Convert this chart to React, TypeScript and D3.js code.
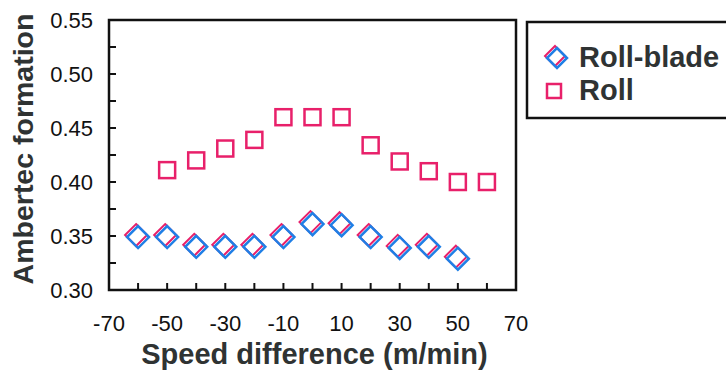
import * as d3 from "d3";
import React, { useRef, useEffect } from "react";

const W = 726;
const H = 377;
const margin = { top: 20, right: 210, bottom: 87, left: 109 };
const width = W - margin.left - margin.right;
const height = H - margin.top - margin.bottom;

const bladeX = [-60, -50, -40, -30, -20, -10, 0, 10, 20, 30, 40, 50];
const bladeY = [0.349, 0.349, 0.34, 0.34, 0.34, 0.349, 0.361, 0.36, 0.349, 0.339, 0.34, 0.329];
const rollX = [-50, -40, -30, -20, -10, 0, 10, 20, 30, 40, 50, 60];
const rollY = [0.411, 0.42, 0.431, 0.439, 0.46, 0.46, 0.46, 0.434, 0.419, 0.41, 0.4, 0.4];
const xLabels = [-70, -50, -30, -10, 10, 30, 50, 70];
const yLabels = [0.3, 0.35, 0.4, 0.45, 0.5, 0.55];
const seriesNames = ["Roll-blade", "Roll"];

const pink = "#e8206a";
const blue = "#1f7fe6";
const ink = "#2f3333";
const font = "Liberation Sans, Arial, sans-serif";

function App() {
  const ref = useRef<SVGSVGElement>(null);

  useEffect(() => {
    const svg = d3.select(ref.current);
    svg.selectAll("*").remove();

    const x = d3.scaleLinear().domain([-70, 70]).range([0, width]);
    const y = d3.scaleLinear().domain([0.3, 0.55]).range([height, 0]);

    const g = svg
      .append("g")
      .attr("transform", `translate(${margin.left},${margin.top})`);

    // frame
    g.append("rect")
      .attr("width", width)
      .attr("height", height)
      .attr("fill", "none")
      .attr("stroke", "#111")
      .attr("stroke-width", 2.5);

    // x ticks (inward)
    g.append("g")
      .selectAll("line")
      .data(d3.range(-60, 70, 10))
      .join("line")
      .attr("x1", (d) => x(d))
      .attr("x2", (d) => x(d))
      .attr("y1", height)
      .attr("y2", height - 7)
      .attr("stroke", "#111")
      .attr("stroke-width", 2);

    g.append("g")
      .selectAll("text")
      .data(xLabels)
      .join("text")
      .attr("x", (d) => x(d))
      .attr("y", height + 41)
      .attr("text-anchor", "middle")
      .attr("font-family", font)
      .attr("font-size", 22)
      .attr("fill", "#111")
      .text((d) => d);

    // y ticks (inward)
    g.append("g")
      .selectAll("line")
      .data(d3.range(0.325, 0.55, 0.025))
      .join("line")
      .attr("x1", 0)
      .attr("x2", 7)
      .attr("y1", (d) => y(d))
      .attr("y2", (d) => y(d))
      .attr("stroke", "#111")
      .attr("stroke-width", 2);

    g.append("g")
      .selectAll("text")
      .data(yLabels)
      .join("text")
      .attr("x", -16)
      .attr("y", (d) => y(d) + 8)
      .attr("text-anchor", "end")
      .attr("font-family", font)
      .attr("font-size", 22)
      .attr("fill", "#111")
      .text((d) => d.toFixed(2));

    // axis titles
    svg
      .append("text")
      .attr("x", margin.left + width / 2 + 2)
      .attr("y", 364)
      .attr("text-anchor", "middle")
      .attr("font-family", font)
      .attr("font-weight", "bold")
      .attr("font-size", 29)
      .attr("fill", ink)
      .text("Speed difference (m/min)");

    svg
      .append("text")
      .attr("transform", `translate(33,149) rotate(-90)`)
      .attr("text-anchor", "middle")
      .attr("font-family", font)
      .attr("font-weight", "bold")
      .attr("font-size", 28.5)
      .attr("fill", ink)
      .text("Ambertec formation");

    const diamond = (sel: any, s: number) =>
      sel.attr("points", `0,${-s} ${s},0 0,${s} ${-s},0`);

    // roll-blade: pink shadow + blue diamond
    const blade = g
      .append("g")
      .selectAll("g")
      .data(bladeX.map((v, i) => [v, bladeY[i]]))
      .join("g")
      .attr("transform", (d) => `translate(${x(d[0])},${y(d[1])})`);
    blade
      .append("polygon")
      .call(diamond, 11)
      .attr("transform", "translate(-2,-2)")
      .attr("fill", "none")
      .attr("stroke", pink)
      .attr("stroke-width", 2);
    blade
      .append("polygon")
      .call(diamond, 11)
      .attr("fill", "none")
      .attr("stroke", blue)
      .attr("stroke-width", 2.5);

    // roll squares
    g.append("g")
      .selectAll("rect")
      .data(rollX.map((v, i) => [v, rollY[i]]))
      .join("rect")
      .attr("x", (d) => x(d[0]) - 8)
      .attr("y", (d) => y(d[1]) - 8)
      .attr("width", 16)
      .attr("height", 16)
      .attr("fill", "none")
      .attr("stroke", pink)
      .attr("stroke-width", 2.5);

    // legend
    const lg = svg.append("g").attr("transform", "translate(527,22)");
    lg.append("rect")
      .attr("width", 210)
      .attr("height", 96)
      .attr("fill", "white")
      .attr("stroke", "#111")
      .attr("stroke-width", 2.5);
    const b = lg.append("g").attr("transform", "translate(30,36)");
    b.append("polygon")
      .call(diamond, 10)
      .attr("transform", "translate(-2,-2)")
      .attr("fill", "none")
      .attr("stroke", pink)
      .attr("stroke-width", 2);
    b.append("polygon")
      .call(diamond, 10)
      .attr("fill", "none")
      .attr("stroke", blue)
      .attr("stroke-width", 2.5);
    lg.append("rect")
      .attr("x", 20)
      .attr("y", 62)
      .attr("width", 14)
      .attr("height", 14)
      .attr("fill", "none")
      .attr("stroke", pink)
      .attr("stroke-width", 2.5);
    lg.selectAll("text.leg")
      .data(seriesNames)
      .join("text")
      .attr("class", "leg")
      .attr("x", 52)
      .attr("y", (d, i) => 45 + i * 33)
      .attr("font-family", font)
      .attr("font-weight", "bold")
      .attr("font-size", 29)
      .attr("fill", ink)
      .text((d) => d);
  }, []);

  return (
    <div style={{ position: "fixed", left: 0, top: 0, background: "white" }}>
      <svg ref={ref} width={W} height={H} style={{ display: "block" }}></svg>
    </div>
  );
}

export default App;
